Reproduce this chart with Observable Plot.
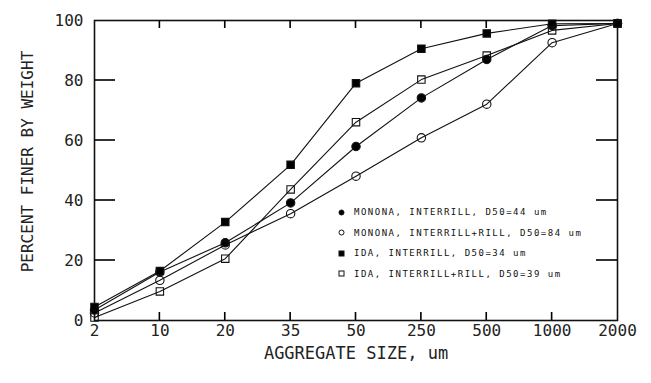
<!DOCTYPE html>
<html>
<head>
<meta charset="utf-8">
<script src="https://cdn.jsdelivr.net/npm/d3@7"></script>
<script src="https://cdn.jsdelivr.net/npm/@observablehq/plot@0.6"></script>
<style>
  html, body { margin: 0; padding: 0; background: #fff; }
  #wrap { position: relative; width: 651px; height: 383px; }
  #legend { position: absolute; left: 338px; top: 202px; font-family: "DejaVu Sans Mono", monospace; font-size: 9px; letter-spacing: 1.5px; color: #111; }
  #legend div { height: 20.5px; display: flex; align-items: center; white-space: nowrap; }
  #legend svg { margin-right: 9px; }
</style>
</head>
<body>
<div id="wrap"></div>
<script>
const sizes = ["2", "10", "20", "35", "50", "250", "500", "1000", "2000"];
const mononaInterrill = [3.5, 16.2, 25.9, 39.2, 58.0, 74.2, 87.0, 98.3, 99.0];
const mononaInterrillRill = [2.5, 13.4, 25.2, 35.6, 48.1, 60.9, 72.1, 92.6, 99.0];
const idaInterrill = [4.5, 16.5, 32.8, 51.9, 79.1, 90.6, 95.7, 98.9, 99.0];
const idaInterrillRill = [1.0, 9.7, 20.6, 43.7, 66.1, 80.3, 88.3, 96.7, 99.0];
const seriesNames = [
  "MONONA, INTERRILL, D50=44 um",
  "MONONA, INTERRILL+RILL, D50=84 um",
  "IDA, INTERRILL, D50=34 um",
  "IDA, INTERRILL+RILL, D50=39 um"
];
const yTicks = [0, 20, 40, 60, 80, 100];

const seriesDefs = [
  {name: seriesNames[0], values: mononaInterrill, symbol: "circle", filled: true},
  {name: seriesNames[1], values: mononaInterrillRill, symbol: "circle", filled: false},
  {name: seriesNames[2], values: idaInterrill, symbol: "square", filled: true},
  {name: seriesNames[3], values: idaInterrillRill, symbol: "square", filled: false}
];
const rows = seriesDefs.flatMap(s => s.values.map((v, i) => ({series: s.name, i, size: sizes[i], pct: v, symbol: s.symbol, filled: s.filled})));
const innerIdx = d3.range(1, sizes.length - 1);
const innerY = yTicks.slice(1, -1);
const FONT = "DejaVu Sans Mono";
const W = 651, H = 383, ML = 94, MR = 34, MT = 20, MB = 63;
const plotW = W - ML - MR, plotH = H - MT - MB;
const xMax = sizes.length - 1, yMax = 100;
// pixel sizes converted to data units
const pxX = xMax / plotW, pxY = yMax / plotH;
const xTickLen = 8 * pxY, yTickLen = 21 * pxX;
const halfX = 0.8 * pxX, halfY = 0.8 * pxY;

const marks = [
  Plot.frame({stroke: "#111", strokeWidth: 1.6}),
  // inward ticks as thin filled rectangles
  Plot.rect(innerIdx, {x1: d => d - halfX, x2: d => d + halfX, y1: 0, y2: xTickLen, fill: "#000"}),
  Plot.rect(innerIdx, {x1: d => d - halfX, x2: d => d + halfX, y1: yMax - xTickLen, y2: yMax, fill: "#000"}),
  Plot.rect(innerY, {y1: d => d - halfY, y2: d => d + halfY, x1: 0, x2: yTickLen, fill: "#000"}),
  Plot.rect(innerY, {y1: d => d - halfY, y2: d => d + halfY, x1: xMax - yTickLen, x2: xMax, fill: "#000"}),
  // tick labels
  Plot.axisX({anchor: "bottom", ticks: d3.range(sizes.length), tickFormat: i => sizes[i], tickSize: 0, tickPadding: 4, label: null, fontSize: 16, fontFamily: FONT, fill: "#222"}),
  Plot.axisY({anchor: "left", ticks: yTicks, tickSize: 0, tickPadding: 11, label: null, fontSize: 16, fontFamily: FONT, fill: "#222"}),
  // axis titles
  Plot.text(["AGGREGATE SIZE, um"], {frameAnchor: "bottom", dy: 38, fontSize: 17, fontFamily: FONT, fill: "#222", letterSpacing: 1.5}),
  Plot.text(["PERCENT FINER BY WEIGHT"], {frameAnchor: "left", textAnchor: "middle", rotate: -90, dx: -67, dy: -9, fontSize: 16, fontFamily: FONT, fill: "#222", letterSpacing: 1.4}),
  // lines
  Plot.line(rows, {x: "i", y: "pct", z: "series", stroke: "#111", strokeWidth: 1.1}),
  Plot.dot(rows, {x: "i", y: "pct", symbol: "symbol", r: 4.2, fill: d => d.filled ? "#000" : "none", stroke: "#111", strokeWidth: 1.1})
];

const chart = Plot.plot({
  width: W,
  height: H,
  marginLeft: ML,
  marginRight: MR,
  marginTop: MT,
  marginBottom: MB,
  style: {fontFamily: FONT, background: "#fff", color: "#111"},
  x: {type: "linear", domain: [0, xMax]},
  y: {domain: [0, yMax]},
  symbol: {type: "identity"},
  marks
});
const wrap = document.getElementById("wrap");
wrap.appendChild(chart);

// legend (HTML overlay)
const legend = document.createElement("div");
legend.id = "legend";
for (const s of seriesDefs) {
  const row = document.createElement("div");
  const ns = "http://www.w3.org/2000/svg";
  const sv = document.createElementNS(ns, "svg");
  sv.setAttribute("width", 7); sv.setAttribute("height", 7);
  let shape;
  if (s.symbol === "circle") {
    shape = document.createElementNS(ns, "circle");
    shape.setAttribute("cx", 3.5); shape.setAttribute("cy", 3.5); shape.setAttribute("r", 2.5);
  } else {
    shape = document.createElementNS(ns, "rect");
    shape.setAttribute("x", 1); shape.setAttribute("y", 1); shape.setAttribute("width", 5); shape.setAttribute("height", 5);
  }
  shape.setAttribute("fill", s.filled ? "#000" : "#fff");
  shape.setAttribute("stroke", "#111");
  shape.setAttribute("stroke-width", 1);
  sv.appendChild(shape);
  row.appendChild(sv);
  row.appendChild(document.createTextNode(s.name));
  legend.appendChild(row);
}
wrap.appendChild(legend);
</script>
</body>
</html>
